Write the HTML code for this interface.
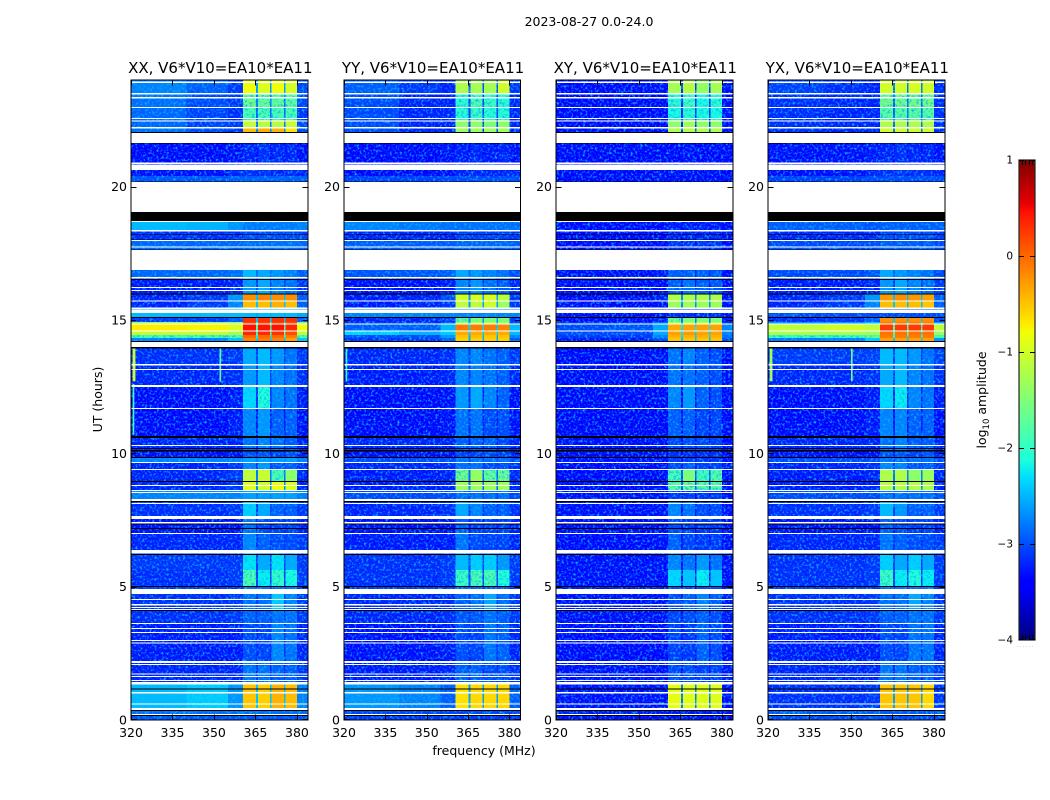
<!DOCTYPE html>
<html lang="en">
<head>
<meta charset="utf-8">
<title>2023-08-27 amplitude waterfall</title>
<style>
html,body{margin:0;padding:0;background:#fff;width:1050px;height:800px;overflow:hidden}
svg{display:block}
text{font-family:"DejaVu Sans","Liberation Sans",sans-serif;fill:#000}
</style>
</head>
<body>
<svg id="chart" xmlns="http://www.w3.org/2000/svg" width="1050" height="800" viewBox="0 0 1050 800">
  <defs>
    <filter id="speckle" x="0" y="0" width="1" height="1" color-interpolation-filters="sRGB">
      <feTurbulence type="fractalNoise" baseFrequency="0.42" numOctaves="2" seed="7"/>
      <feColorMatrix type="matrix" values="0 0 0 0 0.02  0 0 0 0 0.7  0 0 0 0 1  3.2 0 0 0 -1.55"/>
    </filter>
    <linearGradient id="jet-gradient" x1="0" y1="1" x2="0" y2="0">
      <stop offset="0" stop-color="#00007f"/>
      <stop offset="0.11" stop-color="#0000ff"/>
      <stop offset="0.125" stop-color="#0000ff"/>
      <stop offset="0.34" stop-color="#00e0ff"/>
      <stop offset="0.375" stop-color="#1cffdb"/>
      <stop offset="0.64" stop-color="#f1ff06"/>
      <stop offset="0.66" stop-color="#ffea00"/>
      <stop offset="0.89" stop-color="#ff1300"/>
      <stop offset="0.91" stop-color="#e60000"/>
      <stop offset="1" stop-color="#7f0000"/>
    </linearGradient>
  </defs>
  <text x="589" y="26" text-anchor="middle" font-size="12.5">2023-08-27 0.0-24.0</text>
  <g id="panels"></g>
  <text x="484" y="755" text-anchor="middle" font-size="12.5">frequency (MHz)</text>
  <text transform="translate(102,399.5) rotate(-90)" text-anchor="middle" font-size="12.5">UT (hours)</text>
  <g id="colorbar"></g>
  <text transform="translate(986,400) rotate(-90)" text-anchor="middle" font-size="12.5">log<tspan font-size="8.5" dy="3">10</tspan><tspan dy="-3"> amplitude</tspan></text>
  <text x="1017" y="647" font-size="5" fill="#888" style="fill:#888;letter-spacing:1.4px">......</text>
</svg>
<script>
// Frequency channel groups (MHz): low / mid / near-band background, four sub-bands with gaps, high background
const freqEdges = [320,340,355,360.5,365.2,365.9,370.2,370.8,375.3,375.9,380,384];
// Time band edges (UT hours), top to bottom
const timeEdges = [24,23.475,22.95,22.5,22.2,21.638,20.888,20.625,20.4,20.175,18.713,18.338,18,16.875,16.575,15.975,15.713,15.413,15.113,14.925,14.85,14.588,14.438,14.325,13.988,13.313,12.563,11.7,10.613,10.125,9.825,9.638,9.375,8.963,8.625,8.213,7.538,7.013,6.225,5.625,5.025,4.725,4.125,3.638,2.213,1.425,0.45,0.225,0];
// Flagged (no data) time ranges, UT hours [start,end]
const whiteFlags = [[23.944,23.888],[23.513,23.464],[23.363,23.314],[22.988,22.95],[22.575,22.538],[22.481,22.444],[22.238,22.189],[22.013,21.638],[20.906,20.831],[20.813,20.625],[20.175,19.05],[18.713,18.675],[18.375,18.319],[18,17.963],[17.756,17.719],[17.625,16.875],[16.613,16.556],[16.238,16.2],[16.125,16.088],[15.731,15.694],[15.469,15.413],[15.394,15.263],[14.869,14.831],[14.606,14.569],[14.175,13.988],[13.35,13.294],[13.163,13.125],[12.563,12.488],[11.7,11.663],[10.313,10.275],[9.675,9.638],[9.413,9.375],[8.813,8.775],[8.625,8.588],[8.55,8.513],[8.288,8.213],[8.138,8.1],[7.65,7.538],[7.425,7.369],[7.013,6.975],[6.375,6.244],[4.913,4.725],[4.538,4.5],[4.35,4.294],[4.238,4.2],[4.163,4.125],[3.638,3.6],[3.45,3.413],[3.3,3.263],[3,2.963],[2.906,2.869],[2.213,2.138],[2.1,2.063],[1.744,1.706],[1.65,1.613],[1.5,1.463],[1.425,1.331],[1.05,0.994],[0.619,0.581],[0.45,0.375],[0.225,0.188]];
// Zero-amplitude (black) time ranges, UT hours [start,end]
const blackFlags = [[22.05,22.013],[21.638,21.611],[20.194,20.175],[19.05,18.713],[18.225,18.199],[18.019,18],[17.644,17.625],[16.538,16.5],[15.994,15.956],[15.113,15.075],[14.213,14.175],[13.988,13.931],[10.65,10.575],[10.2,10.163],[10.125,10.069],[9.863,9.825],[8.963,8.925],[8.213,8.175],[7.369,7.331],[7.2,7.163],[6.225,6.188],[5.025,4.988],[4.125,4.088],[1.181,1.144],[0.375,0.338],[0.188,0.15]];
// log10 amplitude per time band: [320-340, 340-355, 355-360, sub1, sub2, sub3, sub4, 380-384, gap]
const xxValues = [
[-2.75,-2.95,-3.15,-0.8,-0.9,-0.8,-0.95,-3.05,-2.6],[-2.85,-3.05,-3.15,-1.55,-1.65,-1.65,-1.65,-3.05,-2.8],[-2.9,-3.1,-3.2,-1.8,-1.8,-1.8,-1.8,-3.15,-2.9],[-2.9,-3.1,-3.15,-1.1,-1.15,-1.15,-1.05,-3.05,-2.8],[-2.85,-3.05,-3.15,-0.45,-0.35,-0.4,-0.65,-3.05,-2.7],
[-3.4,-3.4,-3.35,-3.25,-3.2,-3.25,-3.25,-3.35,-3.35],[-3.35,-3.35,-3.35,-3.35,-3.35,-3.35,-3.35,-3.35,-3.35],[-3.35,-3.35,-3.25,-3.2,-3.2,-3.25,-3.2,-3.25,-3.25],[-3.0,-3.0,-2.95,-2.95,-2.95,-2.95,-2.95,-2.95,-2.95],[-3,-3,-3,-3,-3,-3,-3,-3,-3],
[-2.45,-2.5,-2.65,-2.8,-2.8,-2.8,-2.8,-2.75,-2.75],[-3.2,-3.2,-3.2,-3.05,-3.05,-3.05,-3.05,-3.1,-3.1],[-2.9,-2.9,-2.9,-2.85,-2.85,-2.85,-2.85,-2.9,-2.9],[-2.9,-2.9,-2.85,-2.45,-2.55,-2.65,-2.75,-2.95,-2.85],[-3.3,-3.3,-3.25,-2.65,-2.55,-2.75,-2.85,-3.15,-3.1],
[-3.25,-3.15,-2.65,-0.2,-0.15,-0.2,-0.2,-2.95,-2.4],[-3.25,-3.15,-2.75,-0.45,-0.45,-0.4,-0.45,-2.95,-2.4],[-2.45,-2.45,-2.45,-2.45,-2.45,-2.45,-2.45,-2.55,-2.55],[-3.15,-3.15,-2.95,0.3,0.3,0.3,0.3,-2.95,-2.4],[-1.3,-1.3,-1.4,0.2,0.2,0.2,0.15,-1.4,-1.8],
[-0.7,-0.75,-0.9,0.45,0.45,0.45,0.35,-0.8,-1.6],[-1.05,-1.05,-1.25,0.35,0.35,0.3,0.15,-1.1,-1.6],[-1.8,-1.8,-1.7,0.0,0.0,0.0,-0.1,-1.7,-2.0],[-2.75,-2.75,-2.4,-0.15,-0.1,-0.15,-0.3,-2.4,-2.4],[-3.2,-3.2,-3.15,-2.55,-2.45,-2.65,-2.85,-3.15,-3.1],
[-3.25,-3.25,-3.2,-2.65,-2.45,-2.75,-2.85,-3.2,-3.1],[-3.4,-3.4,-3.3,-2.3,-2.05,-2.75,-2.85,-3.3,-3.2],[-3.4,-3.4,-3.3,-2.75,-2.65,-2.95,-2.95,-3.35,-3.3],[-3.25,-3.25,-3.25,-2.85,-2.75,-2.85,-2.95,-3.25,-3.2],[-3.35,-3.35,-3.35,-3.0,-3.0,-3.1,-3.0,-3.25,-3.25],
[-2.75,-2.75,-2.75,-2.6,-2.6,-2.6,-2.6,-2.75,-2.75],[-3.25,-3.25,-3.15,-2.75,-2.65,-3.0,-2.95,-3.15,-3.1],[-3.25,-3.25,-3.15,-1.1,-1.05,-1.8,-1.4,-3.25,-2.8],[-3.25,-3.25,-3.15,-0.9,-1.0,-0.8,-0.9,-3.25,-2.7],[-2.75,-2.75,-2.75,-2.6,-2.6,-2.6,-2.6,-2.75,-2.75],
[-3.2,-3.2,-3.15,-2.35,-2.55,-2.95,-2.95,-3.15,-3.1],[-3.35,-3.35,-3.35,-2.85,-3.05,-3.1,-3.1,-3.25,-3.25],[-3.25,-3.25,-3.25,-2.75,-2.95,-3.05,-3.05,-3.15,-3.15],[-3.15,-3.15,-3.15,-2.25,-2.55,-2.25,-2.55,-3.15,-3.1],[-3.2,-3.2,-3.15,-1.8,-2.2,-1.95,-2.1,-3.15,-3.1],
[-3.15,-3.15,-3.15,-2.85,-2.85,-2.85,-2.85,-3.15,-3.1],[-3.2,-3.2,-3.15,-2.85,-2.85,-2.35,-2.75,-3.15,-3.1],[-3.2,-3.2,-3.15,-2.95,-2.95,-2.85,-2.85,-3.15,-3.1],[-3.3,-3.3,-3.3,-3.05,-3.1,-2.75,-2.85,-3.25,-3.2],[-3.25,-3.25,-3.25,-2.85,-2.85,-2.95,-2.95,-3.15,-3.2],
[-2.45,-2.35,-2.65,-0.5,-0.55,-0.4,-0.45,-2.75,-2.4],[-2.85,-2.85,-2.85,-2.85,-2.85,-2.85,-2.85,-2.85,-2.85],[-3.0,-3.0,-3.0,-3.0,-3.0,-3.0,-3.0,-3.0,-3.0]];
const yyValues = [
[-2.95,-3.15,-3.25,-1.2,-1.25,-1.25,-1.0,-3.15,-3.0],[-3.05,-3.25,-3.25,-2.0,-1.8,-1.9,-2.0,-3.25,-3.1],[-3.05,-3.25,-3.25,-2.0,-1.9,-2.0,-2.0,-3.25,-3.1],[-3.05,-3.25,-3.25,-1.4,-1.4,-1.5,-1.4,-3.25,-3.1],[-3.05,-3.25,-3.25,-1.3,-1.3,-1.3,-1.3,-3.25,-3.1],
[-3.4,-3.4,-3.35,-3.3,-3.25,-3.3,-3.25,-3.35,-3.35],[-3.35,-3.35,-3.35,-3.35,-3.35,-3.35,-3.35,-3.35,-3.35],[-3.4,-3.4,-3.35,-3.25,-3.25,-3.25,-3.25,-3.25,-3.25],[-3.1,-3.1,-3.05,-3.05,-3.05,-3.05,-3.05,-3.05,-3.05],[-3,-3,-3,-3,-3,-3,-3,-3,-3],
[-2.75,-2.8,-2.85,-2.85,-2.85,-2.85,-2.85,-2.85,-2.85],[-3.25,-3.25,-3.25,-3.1,-3.1,-3.1,-3.1,-3.15,-3.15],[-2.95,-2.95,-2.95,-2.9,-2.9,-2.9,-2.9,-2.95,-2.95],[-3.0,-3.0,-2.95,-2.55,-2.65,-2.75,-2.85,-3.05,-2.9],[-3.35,-3.35,-3.3,-2.75,-2.65,-2.85,-2.95,-3.25,-3.15],
[-3.3,-3.25,-3.05,-1.0,-0.95,-0.95,-1.15,-3.15,-2.6],[-3.3,-3.25,-3.15,-1.1,-1.1,-1.0,-1.3,-3.15,-2.6],[-2.75,-2.75,-2.75,-2.75,-2.75,-2.75,-2.75,-2.75,-2.75],[-3.25,-3.25,-3.15,-1.65,-1.5,-1.5,-1.5,-3.15,-2.7],[-3.15,-3.15,-2.95,-1.3,-1.2,-1.2,-1.3,-3.05,-2.5],
[-2.95,-2.95,-2.45,-0.1,-0.1,-0.1,-0.15,-2.45,-2.3],[-2.3,-2.5,-2.35,-0.35,-0.35,-0.35,-0.35,-2.45,-2.3],[-3.05,-3.05,-2.65,-0.5,-0.45,-0.5,-0.5,-2.75,-2.5],[-3.15,-3.15,-2.95,-0.55,-0.55,-0.55,-0.55,-2.95,-2.5],[-3.25,-3.25,-3.2,-2.75,-2.75,-2.85,-2.95,-3.15,-3.15],
[-3.3,-3.3,-3.25,-2.75,-2.75,-2.85,-2.95,-3.25,-3.15],[-3.4,-3.4,-3.35,-2.65,-2.55,-2.75,-2.95,-3.35,-3.25],[-3.4,-3.4,-3.35,-2.85,-2.85,-3.05,-3.05,-3.35,-3.25],[-3.25,-3.25,-3.25,-2.95,-2.95,-2.95,-3.05,-3.25,-3.25],[-3.35,-3.35,-3.35,-3.1,-3.1,-3.1,-3.1,-3.25,-3.25],
[-3.05,-3.05,-3.05,-2.85,-2.85,-2.85,-2.85,-3.05,-3.05],[-3.25,-3.25,-3.2,-2.85,-2.85,-3.05,-3.05,-3.2,-3.1],[-3.3,-3.3,-3.25,-1.55,-1.35,-1.65,-1.6,-3.25,-2.9],[-3.3,-3.3,-3.25,-1.3,-1.3,-1.3,-1.3,-3.25,-2.9],[-3.05,-3.05,-3.05,-2.85,-2.85,-2.85,-2.85,-3.05,-3.05],
[-3.25,-3.25,-3.2,-2.55,-2.75,-2.95,-2.95,-3.2,-3.15],[-3.35,-3.35,-3.35,-2.95,-3.1,-3.1,-3.1,-3.25,-3.25],[-3.3,-3.3,-3.3,-2.85,-3.05,-3.1,-3.1,-3.25,-3.2],[-3.2,-3.2,-3.15,-2.45,-2.35,-2.35,-2.65,-3.15,-3.1],[-3.2,-3.2,-3.15,-1.9,-1.8,-1.8,-2.05,-3.15,-3.1],
[-3.15,-3.15,-3.15,-2.95,-2.95,-2.95,-2.95,-3.15,-3.1],[-3.25,-3.25,-3.2,-2.95,-2.85,-2.55,-2.85,-3.15,-3.1],[-3.25,-3.25,-3.2,-3.0,-3.0,-2.85,-2.95,-3.15,-3.1],[-3.35,-3.35,-3.3,-3.05,-3.1,-2.85,-2.95,-3.25,-3.2],[-3.3,-3.3,-3.25,-2.95,-2.95,-3.05,-3.05,-3.2,-3.2],
[-2.65,-2.75,-2.95,-0.65,-0.6,-0.6,-0.6,-2.95,-2.6],[-3.05,-3.05,-3.05,-3.05,-3.05,-3.05,-3.05,-3.05,-3.05],[-3.15,-3.15,-3.15,-3.15,-3.15,-3.15,-3.15,-3.15,-3.15]];
const xyValues = [
[-3.4,-3.4,-3.35,-1.25,-1.15,-1.35,-1.25,-3.35,-3.1],[-3.45,-3.45,-3.4,-2.0,-1.9,-2.1,-2.0,-3.35,-3.2],[-3.45,-3.45,-3.4,-2.1,-2.0,-2.1,-2.1,-3.35,-3.2],[-3.45,-3.45,-3.4,-1.4,-1.3,-1.4,-1.4,-3.35,-3.2],[-3.45,-3.45,-3.4,-1.2,-1.15,-1.2,-1.2,-3.35,-3.1],
[-3.45,-3.45,-3.45,-3.4,-3.35,-3.4,-3.4,-3.45,-3.45],[-3.45,-3.45,-3.45,-3.45,-3.45,-3.45,-3.45,-3.45,-3.45],[-3.45,-3.45,-3.4,-3.35,-3.35,-3.35,-3.35,-3.4,-3.4],[-3.4,-3.4,-3.35,-3.35,-3.35,-3.35,-3.35,-3.35,-3.35],[-3,-3,-3,-3,-3,-3,-3,-3,-3],
[-3.4,-3.4,-3.4,-3.3,-3.3,-3.3,-3.3,-3.35,-3.35],[-3.45,-3.45,-3.45,-3.25,-3.25,-3.25,-3.25,-3.35,-3.35],[-3.4,-3.4,-3.35,-3.15,-3.15,-3.15,-3.15,-3.35,-3.35],[-3.35,-3.35,-3.3,-2.95,-2.95,-2.95,-3.0,-3.35,-3.2],[-3.45,-3.45,-3.4,-2.95,-2.85,-2.95,-3.0,-3.35,-3.3],
[-3.45,-3.45,-3.25,-1.2,-1.2,-1.2,-1.2,-3.35,-2.7],[-3.45,-3.45,-3.35,-1.3,-1.3,-1.3,-1.3,-3.35,-2.7],[-3.35,-3.35,-3.35,-3.2,-3.2,-3.2,-3.2,-3.35,-3.35],[-3.4,-3.4,-3.25,-1.55,-1.5,-1.5,-1.5,-3.35,-2.8],[-3.15,-3.15,-2.85,-1.2,-1.1,-1.1,-1.1,-3.15,-2.6],
[-3.05,-3.0,-2.55,-0.35,-0.3,-0.3,-0.3,-2.75,-2.2],[-3.05,-3.05,-2.55,-0.3,-0.25,-0.3,-0.3,-2.75,-2.2],[-3.15,-3.15,-2.75,-0.4,-0.4,-0.4,-0.4,-2.85,-2.3],[-3.3,-3.3,-3.05,-0.5,-0.5,-0.5,-0.5,-3.05,-2.4],[-3.4,-3.4,-3.35,-2.85,-2.75,-2.95,-3.05,-3.35,-3.3],
[-3.4,-3.4,-3.35,-2.85,-2.85,-2.95,-3.05,-3.35,-3.3],[-3.45,-3.45,-3.4,-2.75,-2.65,-2.95,-3.05,-3.4,-3.35],[-3.45,-3.45,-3.4,-2.95,-2.95,-3.1,-3.1,-3.4,-3.35],[-3.35,-3.35,-3.35,-3.05,-3.05,-3.05,-3.1,-3.35,-3.35],[-3.45,-3.45,-3.45,-3.2,-3.2,-3.2,-3.2,-3.4,-3.4],
[-3.35,-3.35,-3.35,-3.15,-3.15,-3.15,-3.15,-3.35,-3.35],[-3.4,-3.4,-3.35,-3.05,-2.95,-3.1,-3.1,-3.35,-3.3],[-3.45,-3.45,-3.4,-1.8,-1.5,-1.85,-1.75,-3.35,-3.0],[-3.45,-3.45,-3.4,-1.7,-1.6,-1.7,-1.7,-3.35,-3.0],[-3.35,-3.35,-3.35,-3.15,-3.15,-3.15,-3.15,-3.35,-3.35],
[-3.35,-3.35,-3.35,-2.75,-2.85,-3.05,-3.05,-3.35,-3.3],[-3.45,-3.45,-3.4,-3.05,-3.15,-3.15,-3.15,-3.35,-3.35],[-3.4,-3.4,-3.35,-2.95,-3.1,-3.15,-3.15,-3.35,-3.3],[-3.35,-3.35,-3.35,-2.75,-2.85,-2.65,-2.85,-3.35,-3.3],[-3.35,-3.35,-3.35,-2.3,-2.4,-2.2,-2.4,-3.35,-3.3],
[-3.3,-3.3,-3.3,-3.05,-3.05,-3.05,-3.05,-3.3,-3.3],[-3.35,-3.35,-3.35,-3.05,-2.95,-2.75,-2.95,-3.3,-3.3],[-3.35,-3.35,-3.35,-3.1,-3.05,-2.95,-3.05,-3.3,-3.3],[-3.4,-3.4,-3.4,-3.1,-3.15,-2.95,-3.05,-3.35,-3.3],[-3.35,-3.35,-3.35,-3.05,-3.05,-3.1,-3.1,-3.3,-3.3],
[-3.35,-3.35,-3.35,-0.85,-0.9,-0.9,-0.9,-3.35,-2.8],[-3.3,-3.3,-3.3,-3.3,-3.3,-3.3,-3.3,-3.3,-3.3],[-3.35,-3.35,-3.35,-3.35,-3.35,-3.35,-3.35,-3.35,-3.35]];
const yxValues = [
[-3.1,-3.2,-3.25,-1.0,-1.0,-0.95,-1.0,-3.2,-2.8],[-3.2,-3.25,-3.25,-1.55,-1.55,-1.55,-1.55,-3.2,-2.9],[-3.2,-3.25,-3.25,-1.7,-1.7,-1.7,-1.7,-3.2,-2.9],[-3.2,-3.25,-3.25,-1.2,-1.2,-1.2,-1.2,-3.2,-2.9],[-3.2,-3.25,-3.25,-1.0,-1.0,-1.0,-1.0,-3.2,-2.8],
[-3.35,-3.35,-3.3,-3.25,-3.2,-3.25,-3.25,-3.35,-3.35],[-3.35,-3.35,-3.35,-3.35,-3.35,-3.35,-3.35,-3.35,-3.35],[-3.35,-3.35,-3.25,-3.2,-3.15,-3.2,-3.2,-3.25,-3.25],[-3.1,-3.1,-3.05,-3.05,-3.05,-3.05,-3.05,-3.05,-3.05],[-3,-3,-3,-3,-3,-3,-3,-3,-3],
[-2.95,-2.95,-3.0,-2.95,-2.95,-2.95,-2.95,-2.95,-2.95],[-3.25,-3.25,-3.25,-3.05,-3.05,-3.05,-3.05,-3.15,-3.15],[-3.05,-3.05,-3.05,-2.95,-2.95,-2.95,-2.95,-3.05,-3.05],[-3.05,-3.05,-3.0,-2.55,-2.65,-2.75,-2.85,-3.05,-2.9],[-3.3,-3.3,-3.25,-2.65,-2.55,-2.75,-2.85,-3.15,-3.1],
[-3.25,-3.15,-2.65,-0.25,-0.2,-0.25,-0.3,-2.95,-2.4],[-3.25,-3.15,-2.75,-0.45,-0.45,-0.45,-0.5,-2.95,-2.4],[-3.05,-3.05,-3.05,-3.05,-3.05,-3.05,-3.05,-3.05,-3.05],[-3.2,-3.15,-2.95,-0.2,-0.2,-0.2,-0.2,-3.05,-2.4],[-2.65,-2.65,-2.45,-0.1,-0.1,-0.1,-0.1,-2.55,-2.1],
[-1.1,-1.0,-1.1,0.25,0.25,0.25,0.25,-1.1,-1.6],[-1.2,-1.2,-1.3,-0.05,-0.05,-0.05,-0.05,-1.3,-1.7],[-1.9,-1.9,-1.6,-0.1,-0.1,-0.1,-0.1,-1.8,-2.0],[-2.8,-2.75,-2.35,-0.3,-0.3,-0.3,-0.3,-2.65,-2.4],[-3.15,-3.15,-3.1,-2.45,-2.45,-2.65,-2.85,-3.1,-3.1],
[-3.25,-3.25,-3.2,-2.55,-2.45,-2.75,-2.85,-3.2,-3.1],[-3.4,-3.4,-3.3,-2.3,-2.2,-2.75,-2.85,-3.3,-3.2],[-3.4,-3.4,-3.3,-2.75,-2.75,-2.95,-2.95,-3.35,-3.3],[-3.25,-3.25,-3.25,-2.85,-2.75,-2.95,-2.95,-3.25,-3.2],[-3.35,-3.35,-3.35,-3.0,-3.0,-3.1,-3.0,-3.25,-3.25],
[-3.05,-3.05,-3.05,-2.85,-2.85,-2.85,-2.85,-3.05,-3.05],[-3.25,-3.25,-3.2,-2.75,-2.75,-3.0,-2.95,-3.15,-3.1],[-3.3,-3.3,-3.25,-1.2,-1.2,-1.4,-1.3,-3.25,-2.8],[-3.3,-3.3,-3.25,-1.15,-1.15,-1.15,-1.2,-3.25,-2.8],[-3.05,-3.05,-3.05,-2.85,-2.85,-2.85,-2.85,-3.05,-3.05],
[-3.2,-3.2,-3.15,-2.45,-2.65,-2.95,-2.95,-3.15,-3.1],[-3.35,-3.35,-3.35,-2.95,-3.05,-3.1,-3.1,-3.25,-3.25],[-3.25,-3.25,-3.25,-2.85,-2.95,-3.05,-3.05,-3.15,-3.15],[-3.2,-3.2,-3.15,-2.35,-2.55,-2.35,-2.55,-3.15,-3.1],[-3.2,-3.2,-3.15,-1.9,-2.2,-2.05,-2.2,-3.15,-3.1],
[-3.15,-3.15,-3.15,-2.85,-2.85,-2.85,-2.85,-3.15,-3.1],[-3.2,-3.2,-3.15,-2.85,-2.85,-2.55,-2.75,-3.15,-3.1],[-3.2,-3.2,-3.15,-2.95,-2.95,-2.85,-2.85,-3.15,-3.1],[-3.3,-3.3,-3.3,-3.05,-3.1,-2.85,-2.85,-3.25,-3.2],[-3.25,-3.25,-3.25,-2.85,-2.85,-2.95,-2.95,-3.15,-3.2],
[-3.2,-3.2,-3.15,-0.5,-0.5,-0.5,-0.6,-3.15,-2.6],[-2.95,-2.95,-2.95,-2.95,-2.95,-2.95,-2.95,-2.95,-2.95],[-3.05,-3.05,-3.05,-3.05,-3.05,-3.05,-3.05,-3.05,-3.05]];
// Narrow interference streaks: [freqStart, freqEnd, UT start, UT end, log10 amplitude]
const xxStreaks = [[320.6,321.6,13.95,12.7,-1.0],[352,352.6,13.95,12.7,-1.7],[320.6,321.2,12.6,10.7,-1.9]];
const yyStreaks = [[320.6,321.2,13.95,12.7,-2.0]];
const xyStreaks = [];
const yxStreaks = [[320.6,321.6,13.95,12.7,-1.3],[350,350.6,13.95,12.7,-1.6]];
const panelNames = ['XX','YY','XY','YX'];
const panelValues = [xxValues,yyValues,xyValues,yxValues];
const panelStreaks = [xxStreaks,yyStreaks,xyStreaks,yxStreaks];
const xTicks = [320,335,350,365,380];
const yTicks = [0,5,10,15,20];
const colorbarTicks = [-4,-3,-2,-1,0,1];

const NS = 'http://www.w3.org/2000/svg';
const panelLeft = [131,344,556,768];
const panelWidth = [177,176.5,177,177];
const plotTop = 80, plotHeight = 640;
const columnMap = [0,1,2,3,8,4,8,5,8,6,7];

function jetChannel(t, pts){
  for(let i=1;i<pts.length;i++){
    if(t<=pts[i][0]){
      const a=pts[i-1], b=pts[i];
      return a[1]+(b[1]-a[1])*(t-a[0])/(b[0]-a[0]);
    }
  }
  return pts[pts.length-1][1];
}
function jet(v){
  const t=Math.max(0,Math.min(1,(v+4)/5));
  const r=jetChannel(t,[[0,0],[0.35,0],[0.66,1],[0.89,1],[1,0.5]]);
  const g=jetChannel(t,[[0,0],[0.125,0],[0.375,1],[0.64,1],[0.91,0],[1,0]]);
  const b=jetChannel(t,[[0,0.5],[0.11,1],[0.34,1],[0.65,0],[1,0]]);
  return 'rgb('+Math.round(r*255)+','+Math.round(g*255)+','+Math.round(b*255)+')';
}
function el(tag, attrs, parent){
  const e=document.createElementNS(NS,tag);
  for(const k in attrs) e.setAttribute(k,attrs[k]);
  parent.appendChild(e);
  return e;
}
function drawPanel(p){
  const left=panelLeft[p], w=panelWidth[p];
  const xScale=f=>left+(f-320)/64*w;
  const yScale=t=>plotTop+(24-t)/24*plotHeight;
  const g=el('g',{},document.getElementById('panels'));
  
  
  const values=panelValues[p];
  const drawCell=(row,col,v)=>{
    const x0=xScale(freqEdges[col]), x1=xScale(freqEdges[col+1]);
    const y0=yScale(timeEdges[row]), y1=yScale(timeEdges[row+1]);
    const r=el('rect',{x:x0,y:y0,width:x1-x0,height:y1-y0,fill:jet(v),'shape-rendering':'crispEdges'},g);
    
    
  };
  // quiet cells first, speckle on top of them, saturated cells stay clean
  values.forEach((rowVals,row)=>{
    columnMap.forEach((ci,col)=>{ if(rowVals[ci]<-1.5) drawCell(row,col,rowVals[ci]); });
  });
  const noise=el('rect',{x:left,y:plotTop,width:w,height:plotHeight,filter:'url(#speckle)'},g);
  
  
  values.forEach((rowVals,row)=>{
    columnMap.forEach((ci,col)=>{ if(rowVals[ci]>=-1.5) drawCell(row,col,rowVals[ci]); });
  });
  panelStreaks[p].forEach(s=>{
    const r=el('rect',{x:xScale(s[0]),y:yScale(s[2]),width:xScale(s[1])-xScale(s[0]),height:yScale(s[3])-yScale(s[2]),fill:jet(s[4])},g);
    
    
  });
  whiteFlags.forEach(f=>{
    const r=el('rect',{x:left,y:yScale(f[0]),width:w,height:yScale(f[1])-yScale(f[0]),fill:'#fff','shape-rendering':'crispEdges'},g);
    
    
  });
  blackFlags.forEach(f=>{
    const r=el('rect',{x:left,y:yScale(f[0]),width:w,height:yScale(f[1])-yScale(f[0]),fill:'#000','shape-rendering':'crispEdges'},g);
    
    
  });
  const frame=el('rect',{x:left,y:plotTop,width:w,height:plotHeight,fill:'none',stroke:'#000','stroke-width':1},g);
  
  
  xTicks.forEach(f=>{
    const x=Math.round(xScale(f))+0.5;
    [[plotTop,plotTop+5.5],[plotTop+plotHeight-5.5,plotTop+plotHeight]].forEach(seg=>{
      const l=el('line',{x1:x,x2:x,y1:seg[0],y2:seg[1],stroke:'#000','stroke-width':1},g);
      
      
    });
    const t=el('text',{x:xScale(f),y:737,'text-anchor':'middle','font-size':12.5},g);
    
    
    t.textContent=f;
  });
  yTicks.forEach(h=>{
    const y=Math.round(yScale(h))+0.5-(h===0?1:0);
    [[left,left+5.5],[left+w-5.5,left+w]].forEach(seg=>{
      const l=el('line',{x1:seg[0],x2:seg[1],y1:y,y2:y,stroke:'#000','stroke-width':1},g);
      
      
    });
    const t=el('text',{x:left-4,y:yScale(h)+4.5,'text-anchor':'end','font-size':12.5},g);
    
    
    t.textContent=h;
  });
  const title=el('text',{x:left+w/2+0.8,y:73,'text-anchor':'middle','font-size':15},g);
  
  
  title.textContent=panelNames[p]+', V6*V10=EA10*EA11';
}
panelNames.forEach((_,p)=>drawPanel(p));

function drawColorbar(){
  const g=document.getElementById('colorbar');
  const x=1019,w=16,top=160,h=480;
  const cScale=v=>top+(1-v)/5*h;
  const bar=el('rect',{x:x,y:top,width:w,height:h,fill:'url(#jet-gradient)'},g);
  
  
  const frame=el('rect',{x:x,y:top,width:w,height:h,fill:'none',stroke:'#222','stroke-width':1.2},g);
  
  
  colorbarTicks.forEach(v=>{
    const y=Math.round(cScale(v))+0.5-(v===-4?1:0);
    [[x,x+5],[x+w-5,x+w]].forEach(seg=>{
      const l=el('line',{x1:seg[0],x2:seg[1],y1:y,y2:y,stroke:'#000','stroke-width':1},g);
      
      
    });
    const t=el('text',{x:1013,y:cScale(v)+3.5,'text-anchor':'end','font-size':10.5},g);
    
    
    t.textContent=(v<0?'\u2212':'')+Math.abs(v);
  });
  [0.2,0.4,0.6,0.8].forEach(f=>{
    [[top,top+5],[top+h-5,top+h]].forEach(seg=>{
      const xt=Math.round(x+f*w)+0.5;
      const l=el('line',{x1:xt,x2:xt,y1:seg[0],y2:seg[1],stroke:'#000','stroke-width':1},g);
      
      
    });
  });
}
drawColorbar();
</script>
</body>
</html>
